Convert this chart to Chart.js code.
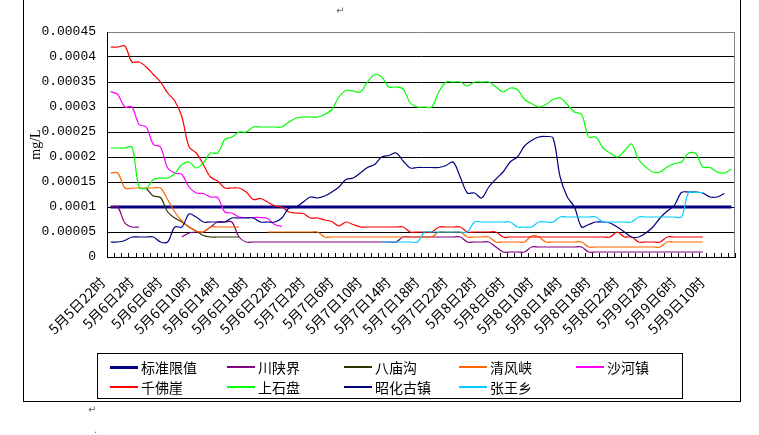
<!DOCTYPE html>
<html><head><meta charset="utf-8">
<script src="https://cdn.jsdelivr.net/npm/chart.js@4/dist/chart.umd.min.js"></script>
<style>
html,body{margin:0;padding:0;background:#fff;}
#wrap{position:relative;width:759px;height:435px;overflow:hidden;background:#fff;}
#c{position:absolute;left:0;top:0;}
#legend{position:absolute;left:97px;top:353px;width:586px;height:46px;border:1px solid #000;box-sizing:border-box;font:14px "Noto Sans CJK SC",sans-serif;color:#000;}
.item{position:absolute;height:20px;line-height:20px;white-space:nowrap;}
.item b{position:absolute;left:0;width:28px;display:block;}
.item span{position:absolute;left:31px;top:0;}
.frame{position:absolute;background:#000;}
.mark{position:absolute;font:10px "DejaVu Sans",sans-serif;color:#666;}
</style></head><body>
<div id="wrap">
<canvas id="c" width="759" height="435"></canvas>
<div class="frame" style="left:23px;top:0;width:1px;height:402px"></div>
<div class="frame" style="left:740px;top:0;width:1px;height:402px"></div>
<div class="frame" style="left:23px;top:401px;width:718px;height:1px"></div>
<div class="mark" style="left:336px;top:5px">↵</div>
<div class="mark" style="left:88px;top:404px">↵</div>
<div class="mark" style="left:94px;top:424px">.</div>
<div id="legend"></div>
</div>
<script>
const categories = [
'5月5日22时','5月5日23时',
'5月6日0时','5月6日1时','5月6日2时','5月6日3时','5月6日4时','5月6日5时','5月6日6时','5月6日7时','5月6日8时','5月6日9时','5月6日10时','5月6日11时',
'5月6日12时','5月6日13时','5月6日14时','5月6日15时','5月6日16时','5月6日17时','5月6日18时','5月6日19时','5月6日20时','5月6日21时','5月6日22时','5月6日23时',
'5月7日0时','5月7日1时','5月7日2时','5月7日3时','5月7日4时','5月7日5时','5月7日6时','5月7日7时','5月7日8时','5月7日9时','5月7日10时','5月7日11时',
'5月7日12时','5月7日13时','5月7日14时','5月7日15时','5月7日16时','5月7日17时','5月7日18时','5月7日19时','5月7日20时','5月7日21时','5月7日22时','5月7日23时',
'5月8日0时','5月8日1时','5月8日2时','5月8日3时','5月8日4时','5月8日5时','5月8日6时','5月8日7时','5月8日8时','5月8日9时','5月8日10时','5月8日11时',
'5月8日12时','5月8日13时','5月8日14时','5月8日15时','5月8日16时','5月8日17时','5月8日18时','5月8日19时','5月8日20时','5月8日21时','5月8日22时','5月8日23时',
'5月9日0时','5月9日1时','5月9日2时','5月9日3时','5月9日4时','5月9日5时','5月9日6时','5月9日7时','5月9日8时','5月9日9时','5月9日10时','5月9日11时',
'5月9日12时','5月9日13时'];
const xLabelStep = 4;
const yTickValues = [0,0.00005,0.0001,0.00015,0.0002,0.00025,0.0003,0.00035,0.0004,0.00045];
const yTickLabels = ['0','0.00005','0.0001','0.00015','0.0002','0.00025','0.0003','0.00035','0.0004','0.00045'];
const seriesNames = ['标准限值','川陕界','八庙沟','清风峡','沙河镇','千佛崖','上石盘','昭化古镇','张王乡'];

const standard = [
0.0001,0.0001,0.0001,0.0001,0.0001,0.0001,0.0001,0.0001,0.0001,0.0001,
0.0001,0.0001,0.0001,0.0001,0.0001,0.0001,0.0001,0.0001,0.0001,0.0001,
0.0001,0.0001,0.0001,0.0001,0.0001,0.0001,0.0001,0.0001,0.0001,0.0001,
0.0001,0.0001,0.0001,0.0001,0.0001,0.0001,0.0001,0.0001,0.0001,0.0001,
0.0001,0.0001,0.0001,0.0001,0.0001,0.0001,0.0001,0.0001,0.0001,0.0001,
0.0001,0.0001,0.0001,0.0001,0.0001,0.0001,0.0001,0.0001,0.0001,0.0001,
0.0001,0.0001,0.0001,0.0001,0.0001,0.0001,0.0001,0.0001,0.0001,0.0001,
0.0001,0.0001,0.0001,0.0001,0.0001,0.0001,0.0001,0.0001,0.0001,0.0001,
0.0001,0.0001,0.0001,0.0001,0.0001,0.0001,0.0001,0.0001];
const chuanshanjie = [
0.0001,0.0001,0.000068,0.00006,0.00006,null,null,null,null,null,
0.00004,0.000048,0.00005,0.00005,0.00006,0.00007,0.00007,0.00007,0.00004,0.00003,
0.00003,0.00003,0.00003,0.00003,0.00003,0.00003,0.00003,0.00003,0.00003,0.00003,
0.00003,0.00003,0.00003,0.00003,0.00003,0.00003,0.00003,0.00003,0.00003,0.00003,
0.00003,0.00004,0.00004,0.00004,0.00004,0.00004,0.00004,0.00004,0.00004,0.00004,
0.00003,0.00003,0.00003,0.00003,0.00002,0.00001,0.00001,0.00001,0.00001,0.00002,
0.00002,0.00002,0.00002,0.00002,0.00002,0.00002,0.00002,0.00001,0.00001,0.00001,
0.00001,0.00001,0.00001,0.00001,0.00001,0.00001,0.00001,0.00001,0.00001,0.00001,
0.00001,0.00001,0.00001,0.00001,null,null,null,null];
const bamiaogou = [
null,null,null,null,null,0.000138,0.000122,0.000119,0.00009,0.000078,
0.00007,0.00006,0.000052,0.000043,0.00004,0.00004,0.00004,0.00004,0.00004,null,
null,null,null,null,null,null,null,null,null,null,
null,null,null,null,null,null,null,null,null,null,
null,null,null,null,null,null,null,null,null,null,
null,null,null,null,null,null,null,null,null,null,
null,null,null,null,null,null,null,null,null,null,
null,null,null,null,null,null,null,null,null,null,
null,null,null,null,null,null,null,null];
const qingfengxia = [
0.000168,0.000168,0.000138,0.000138,0.000138,0.000138,0.000138,0.000138,0.000115,0.00009,
0.000072,0.00006,0.000052,0.00005,0.00006,0.00006,0.00006,0.00006,0.00006,null,
null,null,0.00005,0.00005,0.00005,0.00005,0.00005,0.00005,0.00005,0.00005,
0.00004,0.00004,0.00004,0.00004,0.00004,0.00004,0.00004,0.00004,0.00004,0.00004,
0.00004,0.00004,0.00004,0.00004,0.00004,0.00004,0.00005,0.00005,0.00005,0.00005,
0.00004,0.00004,0.00004,0.00004,0.00003,0.00003,0.00003,0.00003,0.00003,0.000042,
0.00004,0.00003,0.00003,0.00003,0.00003,0.00003,0.00003,0.00002,0.00002,0.00002,
0.00002,0.00002,0.00002,0.00002,0.00002,0.00002,0.00002,0.00002,0.00003,0.00003,
0.00003,0.00003,0.00003,0.00003,null,null,null,null];
const shahezhen = [
0.000331,0.000325,0.0003,0.0003,0.000265,0.00026,0.000225,0.00022,0.000178,0.000168,
0.000165,0.00014,0.000128,0.000127,0.00012,0.000119,0.00009,0.000088,0.00008,0.000079,
0.000079,0.000079,0.000077,0.000065,0.000061,null,null,null,null,null,
null,null,null,null,null,null,null,null,null,null,
null,null,null,null,null,null,null,null,null,null,
null,null,null,null,null,null,null,null,null,null,
null,null,null,null,null,null,null,null,null,null,
null,null,null,null,null,null,null,null,null,null,
null,null,null,null,null,null,null,null];
const qianfoya = [
0.00042,0.00042,0.000422,0.00039,0.00039,0.00038,0.000365,0.00035,0.000328,0.000312,
0.00028,0.00022,0.000208,0.000185,0.00016,0.000152,0.000138,0.000138,0.000138,0.00013,
0.000115,0.000117,0.00011,0.000102,0.0001,0.00009,0.000088,0.000087,0.000078,0.000078,
0.000074,0.000071,0.000062,0.00007,0.000065,0.00006,0.00006,0.00006,0.00006,0.00006,
0.00006,0.00006,0.00005,0.00005,0.00005,0.00005,0.00006,0.00006,0.00006,0.00006,
0.00005,0.00005,0.00005,0.00005,0.00005,0.00004,0.00004,0.00004,0.00004,0.00004,
0.00004,0.00004,0.00004,0.00004,0.00004,0.00004,0.00004,0.00004,0.00004,0.00004,
0.00004,0.00005,0.00004,0.00004,0.00003,0.00003,0.00003,0.00003,0.00004,0.00004,
0.00004,0.00004,0.00004,0.00004,null,null,null,null];
const shangshipan = [
0.000218,0.000218,0.000218,0.00022,0.00014,0.000137,0.000155,0.000158,0.000158,0.000167,
0.000185,0.00019,0.000178,0.000188,0.000208,0.000208,0.000235,0.00024,0.00025,0.00025,
0.00026,0.00026,0.00026,0.00026,0.00026,0.00027,0.000278,0.00028,0.00028,0.00028,
0.000285,0.000295,0.00032,0.000333,0.000332,0.00033,0.00035,0.000365,0.00036,0.00034,
0.00034,0.000336,0.000308,0.0003,0.0003,0.0003,0.00033,0.00035,0.00035,0.00035,
0.000342,0.00035,0.00035,0.00035,0.00034,0.00033,0.000338,0.000335,0.000315,0.000307,
0.0003,0.000305,0.000315,0.000318,0.000305,0.00029,0.000285,0.00024,0.00024,0.000218,
0.000208,0.0002,0.000212,0.000226,0.000195,0.00018,0.00017,0.00017,0.00018,0.000187,
0.00019,0.000208,0.000207,0.00018,0.000179,0.00017,0.000168,0.000176];
const zhaohuaguzhen = [
0.00003,0.00003,0.000033,0.00004,0.00004,0.00004,0.00004,0.00003,0.00003,0.00006,
0.00006,0.000086,0.00008,0.00007,0.00007,0.00007,0.00007,0.000078,0.000078,0.000078,
0.000078,0.00007,0.00007,0.00007,0.000078,0.000098,0.0001,0.00011,0.00012,0.000118,
0.000122,0.00013,0.00014,0.000155,0.000158,0.000168,0.000179,0.000185,0.0002,0.000203,
0.000208,0.000192,0.000178,0.000179,0.000179,0.000179,0.000179,0.000183,0.00019,0.00016,
0.000128,0.000128,0.000118,0.00014,0.000156,0.00017,0.00019,0.0002,0.000222,0.000233,
0.00024,0.000241,0.000238,0.00016,0.00012,0.0001,0.00006,0.000065,0.00007,0.00007,
0.000068,0.00006,0.00005,0.00004,0.00004,0.000048,0.00006,0.000078,0.000092,0.000103,
0.000129,0.00013,0.00013,0.000128,0.00012,0.00012,0.000127,null];
const zhangwangxiang = [
null,null,null,null,null,null,null,null,null,null,
null,null,null,null,null,null,null,null,null,null,
null,null,null,null,null,null,null,null,null,null,
null,null,null,null,null,null,null,null,0.00003,0.00003,
0.00003,0.00003,0.00003,0.00003,0.00005,0.00005,0.00005,0.00005,0.00005,0.00005,
0.00005,0.00007,0.00007,0.00007,0.00007,0.00007,0.00007,0.00006,0.00006,0.00006,
0.00007,0.00007,0.00007,0.00008,0.00008,0.00008,0.00008,0.00008,0.00008,0.00007,
0.00007,0.00007,0.00007,0.00007,0.00008,0.00008,0.00008,0.00008,0.00008,0.00008,
0.00008,0.000129,0.000129,0.000129,null,null,null,null];

const seriesData = [standard, chuanshanjie, bamiaogou, qingfengxia, shahezhen, qianfoya, shangshipan, zhaohuaguzhen, zhangwangxiang];
const lineColors = ['#000080','#800080','#333300','#FF6600','#FF00FF','#FF0000','#00FF00','#000080','#00CCFF'];

const datasets = seriesNames.map((name, k) => ({
  label: name,
  data: seriesData[k],
  borderColor: lineColors[k],
  backgroundColor: lineColors[k],
  borderWidth: k === 0 ? 3 : 1.2,
  pointRadius: 0,
  pointHoverRadius: 0,
  tension: k === 0 ? 0 : 0.33,
  spanGaps: false,
  fill: false,
  order: seriesNames.length - k
}));

const framePlugin = {
  id: 'frame',
  afterDraw(chart) {
    const {ctx, chartArea: a, scales: {x}} = chart;
    ctx.save();
    ctx.strokeStyle = '#808080';
    ctx.lineWidth = 1;
    ctx.beginPath();
    ctx.moveTo(Math.round(a.right) - 0.5, a.top);
    ctx.lineTo(Math.round(a.right) - 0.5, a.bottom);
    ctx.stroke();
    ctx.strokeStyle = '#000';
    const half = (x.getPixelForValue(1) - x.getPixelForValue(0)) / 2;
    ctx.beginPath();
    for (let i = 0; i <= categories.length; i++) {
      const px = Math.round(x.getPixelForValue(i) - half) + 0.5;
      ctx.moveTo(px, a.bottom);
      ctx.lineTo(px, a.bottom - 4);
    }
    ctx.stroke();
    ctx.restore();
  }
};

new Chart(document.getElementById('c'), {
  type: 'line',
  data: { labels: categories, datasets },
  plugins: [framePlugin],
  options: {
    responsive: false,
    animation: false,
    devicePixelRatio: 1,
    layout: { padding: { left: 28, right: 24, top: 32, bottom: 0 } },
    plugins: { legend: { display: false }, tooltip: { enabled: false } },
    scales: {
      x: {
        type: 'category',
        offset: true,
        grid: { display: false, offset: true },
        border: { display: true, color: '#000', width: 1 },
        ticks: {
          autoSkip: false,
          maxRotation: 45,
          minRotation: 45,
          padding: 9,
          labelOffset: -8,
          color: '#000',
          font: { family: '"Noto Sans CJK SC", sans-serif', size: 14 },
          callback: (v, i) => (i % xLabelStep === 0 ? categories[i] : '')
        },
        afterFit: (s) => { s.height = 178; }
      },
      y: {
        min: 0,
        max: 0.00045,
        afterBuildTicks: (s) => { s.ticks = yTickValues.map(v => ({ value: v })); },
        grid: {
          drawTicks: false,
          color: (c) => (c.index === yTickValues.length - 1 ? '#808080' : '#000'),
          lineWidth: 1
        },
        border: { display: true, color: '#000', width: 1 },
        ticks: {
          padding: 11,
          color: '#000',
          font: { family: '"Liberation Mono", monospace', size: 13 },
          callback: (v, i) => yTickLabels[i]
        },
        title: {
          display: true,
          text: 'mg/L',
          padding: 0,
          color: '#000',
          font: { family: '"Liberation Serif", serif', size: 14 }
        },
        afterFit: (s) => { s.width = 79; }
      }
    }
  }
});

// legend (HTML, built from the series names and line colours)
const legend = document.getElementById('legend');
const colX = [12, 129, 246, 361, 478];
const rowY = [3, 23];
seriesNames.forEach((name, k) => {
  const d = document.createElement('div');
  d.className = 'item';
  d.style.left = colX[k % 5] + 'px';
  d.style.top = rowY[Math.floor(k / 5)] + 'px';
  const ln = document.createElement('b');
  const w = k === 0 ? 3 : 2;
  ln.style.top = (10 - Math.floor(w / 2)) + 'px';
  ln.style.height = w + 'px';
  ln.style.background = lineColors[k];
  const sp = document.createElement('span');
  sp.textContent = name;
  d.appendChild(ln); d.appendChild(sp);
  legend.appendChild(d);
});
</script>
</body></html>
